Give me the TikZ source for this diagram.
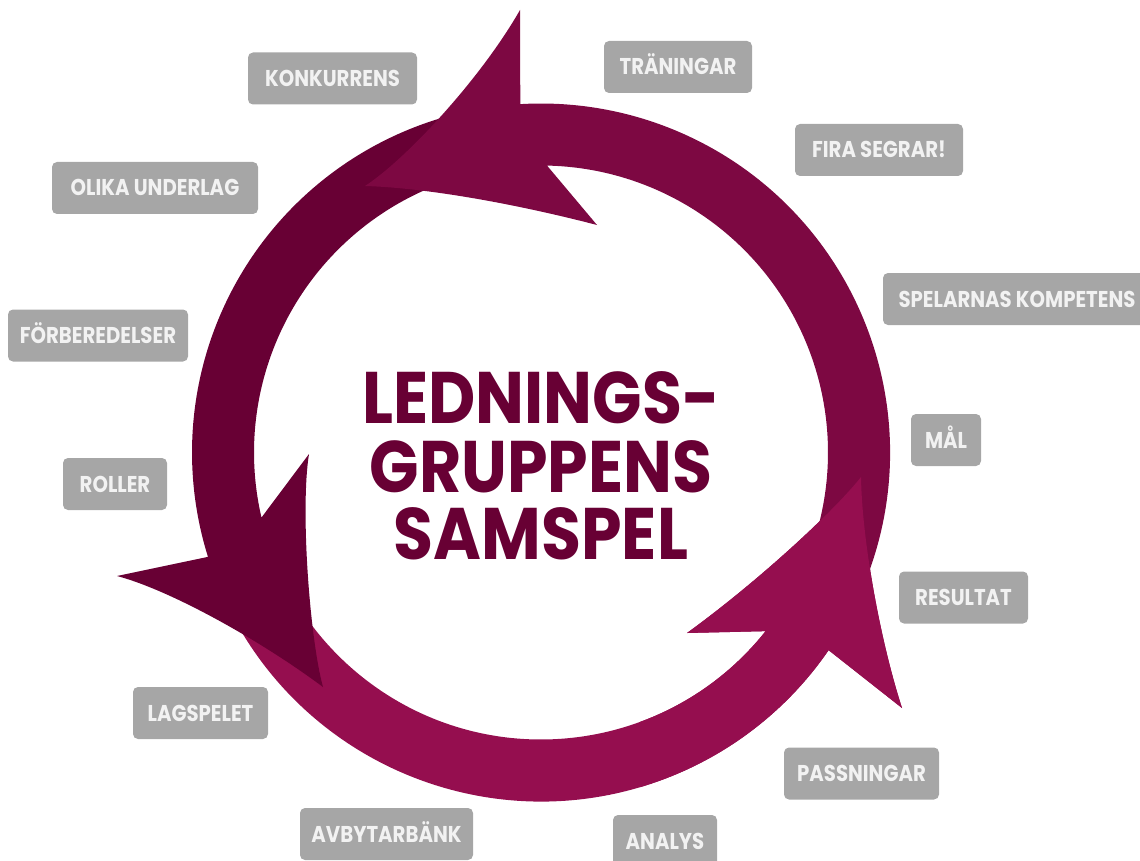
\documentclass[tikz,border=0pt]{standalone}
\usepackage{fontspec}
\usetikzlibrary{calc}
\newfontfamily\labelfont[FakeStretch=0.86]{Poppins}
\newfontfamily\headfont[FakeStretch=0.89]{Poppins}
\definecolor{ringtop}{HTML}{7D0842}
\definecolor{ringleft}{HTML}{680034}
\definecolor{ringbottom}{HTML}{950E4F}
\definecolor{tagfill}{HTML}{A6A6A6}
\definecolor{tagtext}{HTML}{F2F2F2}

% Outline of the lower arrow (tail under the left head, head pointing up on the right)
\newcommand\bottomArrowPath{($(C)+(-205:349)$) arc[start angle=-205,end angle=-325.5,radius=349]
  -- (902,708) .. controls (880,640) and (862,540) .. (861,477)
  .. controls (835,510) and (760,580) .. (687,633)
  -- ($(C)+(-321.5:287)$) arc[start angle=-321.5,end angle=-205,radius=287] -- cycle}

\begin{document}
\begin{tikzpicture}[x=1pt,y=-1pt,
  tag/.style={fill=tagfill, rounded corners=5pt, minimum height=52pt, inner sep=0pt,
    text=tagtext, font=\labelfont\bfseries\fontsize{22.9}{24}\selectfont,
    text height=16pt, text depth=0pt},
  titleline/.style={anchor=base, inner sep=0pt, text=ringleft,
    font=\headfont\bfseries\fontsize{73}{73}\selectfont}]
\useasboundingbox (0,0) rectangle (1140,861);
\coordinate (C) at (541,452.5);

% lower arrow
\fill[ringbottom] \bottomArrowPath;

% left arrow, head pointing down at the lower left
\fill[ringleft] ($(C)+(-100:349)$) arc[start angle=-100,end angle=-197.4,radius=349]
  -- (117,576) .. controls (170,590) and (260,640) .. (323,687)
  .. controls (310,640) and (300,510) .. (309,454)
  -- ($(C)+(-193.1:287)$) arc[start angle=-193.1,end angle=-100,radius=287] -- cycle;

% upper arrow, head pointing left at the top
\fill[ringtop] ($(C)+(22:349)$) arc[start angle=22,end angle=-93.4,radius=349]
  -- (520,10) .. controls (480,80) and (405,160) .. (365,186)
  .. controls (430,188) and (520,205) .. (597,225)
  -- ($(C)+(-88.8:287)$) arc[start angle=-88.8,end angle=22,radius=287] -- cycle;

% the lower arrow's head lies over the tail of the upper arrow
\begin{scope}
  \clip (640,300) rectangle (1140,861);
  \fill[ringbottom] \bottomArrowPath;
\end{scope}

% title
\node[titleline] (title1) at (541,423) {LEDNINGS-};
\node[titleline] (title2) at (541,492) {GRUPPENS};
\node[titleline] (title3) at (541,559) {SAMSPEL};

% labels around the ring
\node[tag, minimum width=169pt] (konkurrens) at (332.5,78.5) {KONKURRENS};
\node[tag, minimum width=148pt] (traningar) at (678,67) {TRÄNINGAR};
\node[tag, minimum width=168pt] (fira) at (879,150) {FIRA SEGRAR!};
\node[tag, minimum width=268pt] (spelarnas) at (1017,299) {SPELARNAS KOMPETENS};
\node[tag, minimum width=70pt] (mal) at (946,440) {MÅL};
\node[tag, minimum width=129pt] (resultat) at (963.5,597.5) {RESULTAT};
\node[tag, minimum width=155pt] (passningar) at (861.5,773.5) {PASSNINGAR};
\node[tag, minimum width=104pt] (analys) at (665,841) {ANALYS};
\node[tag, minimum width=173pt] (avbytarbank) at (386.5,834) {AVBYTARBÄNK};
\node[tag, minimum width=135pt] (lagspelet) at (200.5,713) {LAGSPELET};
\node[tag, minimum width=104pt] (roller) at (115,484) {ROLLER};
\node[tag, minimum width=180pt] (forberedelser) at (98,335.5) {FÖRBEREDELSER};
\node[tag, minimum width=206pt] (olika) at (155,188) {OLIKA UNDERLAG};
\end{tikzpicture}
\end{document}
